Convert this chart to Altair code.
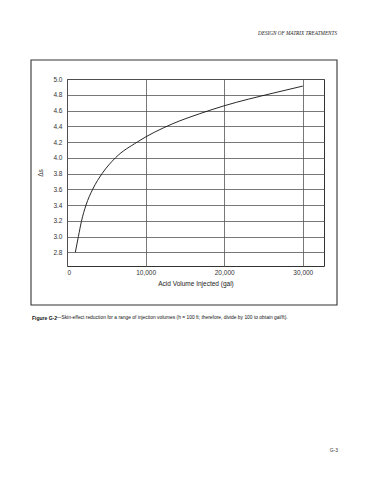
import altair as alt
import pandas as pd

# Data
volume = [1060, 1450, 1830, 2420, 3270, 4470, 6170, 8940, 13400, 16900, 20000, 26200, 30000]
delta_s = [2.80, 3.00, 3.19, 3.40, 3.60, 3.80, 4.00, 4.20, 4.43, 4.56, 4.66, 4.82, 4.91]
x_ticks = [0, 10000, 20000, 30000]
y_ticks = [2.8, 3.0, 3.2, 3.4, 3.6, 3.8, 4.0, 4.2, 4.4, 4.6, 4.8, 5.0]

header = "DESIGN OF MATRIX TREATMENTS"
cap_bold = "Figure G-2"
cap_rest = "\u2014Skin-effect reduction for a range of injection volumes (h = 100 ft; therefore, divide by 100 to obtain gal/ft)."
page_no = "G-3"

df = pd.DataFrame({"V": volume, "S": delta_s})

xscale = alt.Scale(domain=[0, 32700], nice=False, zero=False)
yscale = alt.Scale(domain=[2.626, 5.0], nice=False, zero=False)

curve = alt.Chart(df).mark_line(color="#111", strokeWidth=0.9, interpolate="monotone").encode(
    x=alt.X("V:Q", scale=xscale,
            axis=alt.Axis(values=x_ticks, format=",.0f", title="Acid Volume Injected (gal)",
                          ticks=False, domain=False, grid=True, gridColor="#555", gridWidth=0.8,
                          labelFont="Liberation Sans", labelFontSize=6.5, labelColor="#333",
                          labelPadding=3, titleFont="Liberation Sans", titleFontSize=6.5,
                          titleFontWeight="normal", titleColor="#222", titlePadding=5)),
    y=alt.Y("S:Q", scale=yscale,
            axis=alt.Axis(values=y_ticks, format=".1f", title="\u0394s",
                          ticks=False, domain=False, grid=True, gridColor="#555", gridWidth=0.8,
                          labelFont="Liberation Sans", labelFontSize=6.5, labelColor="#333",
                          labelPadding=5, titleFont="Liberation Sans", titleFontSize=6.5,
                          titleFontWeight="normal", titleColor="#333", titlePadding=9)),
)

frame = alt.Chart(pd.DataFrame({"a": [0]})).mark_rect(
    fill=None, stroke="#333", strokeWidth=1.1
).encode(x=alt.value(-36), x2=alt.value(270), y=alt.value(-19), y2=alt.value(226))

hdr = alt.Chart(pd.DataFrame({"t": [header]})).mark_text(
    align="right", baseline="middle", font="Liberation Serif", fontStyle="italic",
    fontSize=5.2, color="#222"
).encode(x=alt.value(270), y=alt.value(-46), text="t:N")

capb = alt.Chart(pd.DataFrame({"t": [cap_bold]})).mark_text(
    align="left", baseline="middle", font="Liberation Sans", fontWeight="bold",
    fontSize=5, color="#111"
).encode(x=alt.value(-35), y=alt.value(239), text="t:N")

capr = alt.Chart(pd.DataFrame({"t": [cap_rest]})).mark_text(
    align="left", baseline="middle", font="Liberation Sans",
    fontSize=4.9, color="#111"
).encode(x=alt.value(-10.5), y=alt.value(239), text="t:N")

pg = alt.Chart(pd.DataFrame({"t": [page_no]})).mark_text(
    align="right", baseline="middle", font="Liberation Sans",
    fontSize=5, color="#333"
).encode(x=alt.value(271), y=alt.value(371), text="t:N")

chart = alt.layer(curve, frame, hdr, capb, capr, pg).properties(
    width=257, height=187,
    autosize=alt.AutoSizeParams(type="none"),
    padding={"left": 67, "top": 79, "right": 46, "bottom": 214},
    background="white",
).configure_view(stroke="#333", strokeWidth=1)

chart.save("out.html", embed_options={"renderer": "svg", "actions": False})
